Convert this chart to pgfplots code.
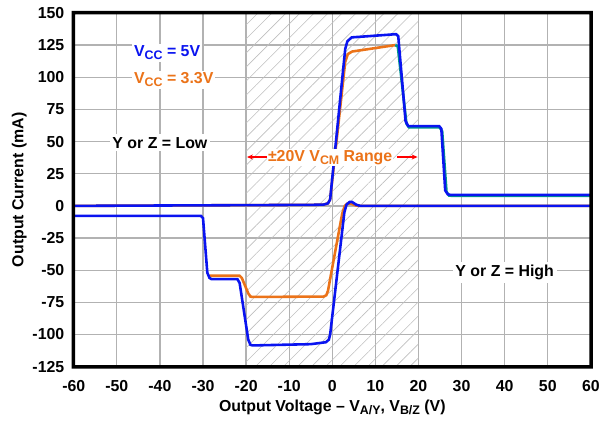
\documentclass[border=0pt]{standalone}
\usepackage{fontspec}
\setmainfont{Liberation Sans}
\usepackage{pgfplots}
\pgfplotsset{compat=1.18}
\usetikzlibrary{patterns.meta,arrows.meta}
\newcommand{\sub}[1]{\raisebox{-0.35ex}{\fontsize{12.5}{13}\selectfont #1}}
\newcommand{\lbl}{\bfseries\fontsize{16}{19}\selectfont}
\definecolor{vblue}{RGB}{10,20,240}
\definecolor{vorange}{RGB}{235,115,25}
\definecolor{vteal}{RGB}{0,150,140}
\begin{document}
\begin{tikzpicture}
\begin{axis}[
    width=519bp, height=355bp, scale only axis,
    xmin=-60, xmax=60, ymin=-125, ymax=150,
    xtick={-60,-50,...,60},
    ytick={-125,-100,...,150},
    grid=major,
    grid style={gray!60, line width=1.3pt},
    tick style={draw=none},
    /pgf/number format/assume math mode=true,
    ticklabel style={font=\lbl},
    xticklabel style={yshift=-10pt},
    yticklabel style={xshift=-6pt},
    label style={font=\lbl},
    xlabel={Output Voltage -- V\sub{A/Y}, V\sub{B/Z} (V)},
    ylabel={Output Current (mA)},
    xlabel style={yshift=-2pt},
    ylabel style={yshift=-1pt},
    clip=false,
]
% hatched +-20 V common-mode band
\fill[pattern={Lines[angle=45, distance=10pt, line width=0.6pt]}, pattern color=gray!50]
  (axis cs:-20,-125) rectangle (axis cs:20,150);

% Y or Z = Low, Vcc = 3.3V
\addplot[vorange, line width=2.6pt] coordinates {
  (-60,0) (-5,0.8) (-2,1) (-1,2) (-0.5,5) (3.0,112) (3.6,118) (4.6,120) (14.6,125)
};
\addplot[vteal, line width=2.6pt] coordinates {
  (14.6,125) (15.2,124) (17.2,64) (17.8,61) (24.9,61) (25.5,58) (26.5,11) (27.1,8) (28,7.8) (60,7.8)
};
% Y or Z = High, Vcc = 3.3V
\addplot[vorange, line width=2.6pt] coordinates {
  (-28.5,-54.3) (-21.5,-54.3) (-21,-56) (-19.5,-68) (-19,-70.5) (-18.5,-70.8)
  (-2,-70.5) (-1.4,-69.5) (-1.0,-66) (2.3,-6) (2.9,0) (3.5,1.8) (4.3,1.8) (5.5,0.3) (6.5,0) (60,0)
};
% Y or Z = Low, Vcc = 5V
\addplot[vblue, line width=2.6pt] coordinates {
  (-60,0) (-5,0.8) (-2,1) (-1,2) (-0.5,5) (3.0,122) (3.5,128) (4.5,131) (14.8,133.5)
  (15.3,132) (17.0,66) (17.6,62) (24.8,62) (25.3,60) (26.2,12) (26.8,9) (27.5,8.5) (60,8.5)
};
% Y or Z = High, Vcc = 5V
\addplot[vblue, line width=2.6pt] coordinates {
  (-60,-7.8) (-30.5,-7.8) (-30,-9.5) (-29,-52) (-28.5,-56) (-28,-57) (-22,-57) (-21.5,-60)
  (-19.5,-104) (-19,-108) (-18.5,-108.5) (-5,-107.5) (-1.5,-106) (-0.8,-104) (-0.5,-100)
  (2.8,-5) (3.3,1) (4,3) (4.6,3) (5.5,1) (6.5,0) (60,0)
};

\node[fill=white, anchor=west, text=vblue, font=\lbl, inner sep=2pt]
  at (axis cs:-46.5,119) {V\sub{CC} = 5V};
\node[fill=white, anchor=west, text=vorange, font=\lbl, inner sep=2pt]
  at (axis cs:-46.5,98) {V\sub{CC} = 3.3V};
\node[fill=white, font=\lbl, inner sep=3pt]
  at (axis cs:-40,49) {Y or Z = Low};
\node[fill=white, font=\lbl, inner sep=3pt]
  at (axis cs:40,-51.5) {Y or Z = High};
\draw[red, line width=1.2pt, -{Stealth[length=6pt,width=5pt]}] (axis cs:-15,38) -- (axis cs:-19.8,38);
\draw[red, line width=1.2pt, -{Stealth[length=6pt,width=5pt]}] (axis cs:15,38) -- (axis cs:19.8,38);
\node[fill=white, text=vorange, font=\lbl, inner sep=1pt]
  at (axis cs:-0.5,37.5) {±20V V\sub{CM} Range};
\end{axis}
% heavy plot frame, as a filled ring
\fill[black, even odd rule]
  ([shift={(-2pt,-2pt)}]current axis.south west) rectangle ([shift={(2pt,2pt)}]current axis.north east)
  ([shift={(1.5pt,1.5pt)}]current axis.south west) rectangle ([shift={(-1.5pt,-1.5pt)}]current axis.north east);
% page margins as in the reference
\path ([shift={(-74bp,13bp)}]current axis.north west) rectangle ([shift={(10bp,-59bp)}]current axis.south east);
\end{tikzpicture}
\end{document}
